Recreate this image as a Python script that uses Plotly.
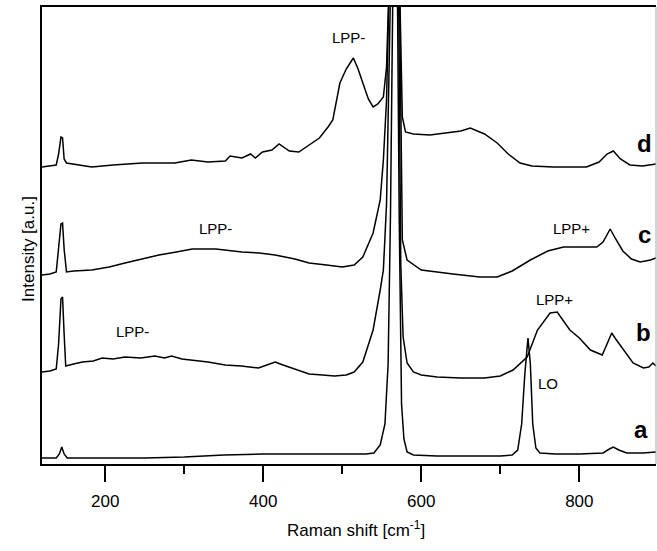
import plotly.graph_objects as go

# Raman shift (cm^-1) and offset intensities (a.u.)
a_x = [120, 130, 138, 142, 145, 148, 152, 170, 200, 250, 300, 350, 400, 450, 500, 530, 540, 548, 554, 558, 561, 564, 567, 570, 572, 575, 578, 582, 590, 620, 660, 700, 715, 722, 727, 731, 735, 738, 741, 745, 750, 770, 800, 830, 838, 843, 850, 860, 880, 897]
a_y = [6, 6, 6, 10, 17, 10, 6, 6, 6, 6, 7, 9, 10, 10, 10, 10, 11, 19, 40, 100, 250, 450, 700, 450, 250, 60, 25, 12, 9, 8, 8, 8, 9, 14, 40, 90, 126, 100, 40, 16, 11, 10, 10, 11, 15, 17, 14, 11, 11, 12]

b_x = [120, 130, 138, 141, 144, 146, 148, 150, 160, 171, 185, 196, 210, 225, 245, 263, 275, 284, 297, 310, 330, 352, 372, 394, 405, 415, 425, 436, 447, 458, 475, 490, 505, 515, 526, 539, 548, 552, 556, 560, 564, 567, 571, 574, 577, 582, 590, 600, 620, 650, 680, 700, 716, 726, 734, 747, 763, 772, 788, 800, 814, 829, 836, 841, 846, 856, 868, 881, 888, 893, 897]
b_y = [92, 93, 95, 120, 165, 167, 130, 98, 100, 102, 103, 106, 105, 107, 106, 108, 106, 108, 105, 104, 102, 99, 98, 96, 99, 102, 99, 96, 93, 90, 89, 88, 89, 92, 102, 134, 174, 194, 260, 380, 600, 900, 500, 200, 127, 101, 92, 89, 87, 86, 86, 88, 94, 101, 107, 134, 151, 152, 134, 126, 114, 109, 122, 131, 125, 114, 101, 96, 97, 101, 98]

c_x = [120, 130, 138, 141, 144, 146, 148, 151, 160, 183, 205, 225, 245, 268, 290, 310, 340, 373, 395, 415, 440, 458, 480, 500, 515, 526, 539, 548, 552, 556, 560, 567, 572, 576, 582, 595, 600, 640, 674, 696, 715, 738, 760, 780, 800, 822, 830, 839, 846, 855, 866, 877, 890, 897]
c_y = [189, 190, 192, 215, 240, 241, 215, 192, 193, 194, 197, 201, 205, 209, 212, 215, 215, 212, 211, 209, 205, 201, 199, 197, 199, 207, 231, 264, 304, 364, 500, 900, 500, 224, 204, 197, 194, 190, 187, 187, 193, 204, 213, 217, 217, 217, 222, 235, 225, 213, 205, 202, 204, 206]

d_x = [120, 130, 138, 141, 144, 146, 148, 151, 165, 183, 210, 247, 288, 309, 330, 352, 358, 373, 384, 390, 399, 411, 420, 433, 445, 458, 471, 482, 488, 497, 505, 514, 520, 526, 533, 539, 545, 552, 556, 560, 567, 572, 576, 580, 590, 611, 630, 650, 662, 680, 696, 710, 725, 740, 767, 790, 809, 825, 835, 843, 852, 864, 880, 897]
d_y = [297, 298, 299, 310, 327, 326, 305, 301, 299, 297, 299, 301, 301, 304, 302, 303, 308, 306, 310, 306, 312, 314, 320, 313, 312, 319, 326, 337, 344, 381, 395, 406, 395, 381, 365, 357, 360, 367, 397, 500, 900, 500, 347, 332, 330, 329, 331, 333, 336, 330, 321, 310, 301, 298, 297, 297, 297, 302, 310, 313, 305, 299, 298, 300]

curve_labels = ["a", "b", "c", "d"]
x_ticks = [200, 400, 600, 800]
x_minor = [300, 500, 700]

FONT = "Arial, 'Liberation Sans', sans-serif"

fig = go.Figure()
for xs, ys in [(a_x, a_y), (b_x, b_y), (c_x, c_y), (d_x, d_y)]:
    fig.add_trace(go.Scatter(x=xs, y=ys, mode="lines",
                             line=dict(color="black", width=1.5),
                             showlegend=False, hoverinfo="skip"))

# peak labels
peak_labels = [
    ("LPP-", 508, 427), ("LPP-", 339, 236), ("LPP-", 235, 133),
    ("LPP+", 790, 236), ("LPP+", 769, 165), ("LO", 760, 81),
]
for t, x, y in peak_labels:
    fig.add_annotation(x=x, y=y, text=t, showarrow=False,
                       font=dict(family=FONT, size=15, color="black"))

letter_pos = [(878, 35), (881, 132), (882, 230), (882, 321)]
for t, (x, y) in zip(curve_labels, letter_pos):
    fig.add_annotation(x=x, y=y, text="<b>%s</b>" % t, showarrow=False,
                       font=dict(family=FONT, size=24, color="black"))

fig.add_annotation(xref="paper", yref="paper", x=-0.042, y=0.47,
                   text="Intensity [a.u.]", textangle=-90, showarrow=False,
                   font=dict(family=FONT, size=17, color="black"))
fig.add_annotation(xref="paper", yref="paper", x=0.511, y=-0.143,
                   text="Raman shift [cm<sup>-1</sup>]", showarrow=False,
                   yanchor="middle",
                   font=dict(family=FONT, size=17, color="black"))

# right frame line (thin, grey)
fig.add_shape(type="line", xref="paper", yref="paper", x0=1, x1=1, y0=0, y1=1,
              line=dict(color="#aaaaaa", width=1))

fig.update_layout(
    width=657, height=551,
    margin=dict(l=42, r=1, t=7, b=87),
    paper_bgcolor="white", plot_bgcolor="white",
    font=dict(family=FONT, size=17, color="black"),
    xaxis=dict(range=[120, 897], tickvals=x_ticks, ticktext=[str(v) for v in x_ticks],
               ticks="outside", ticklen=16, tickwidth=1.5, tickcolor="black",
               showline=True, linewidth=2, linecolor="black", mirror=True,
               showgrid=False, zeroline=False, ticklabelstandoff=5,
               tickfont=dict(family=FONT, size=17, color="black"),
               minor=dict(tickvals=x_minor, ticks="outside", ticklen=8,
                          tickwidth=1.5, tickcolor="black", showgrid=False)),
    yaxis=dict(range=[0, 457], showticklabels=False, ticks="",
               showline=True, linewidth=2, linecolor="black",
               showgrid=False, zeroline=False),
)

fig.write_html("out.html", config={"displayModeBar": False},
               post_script="document.body.style.margin='0';")
